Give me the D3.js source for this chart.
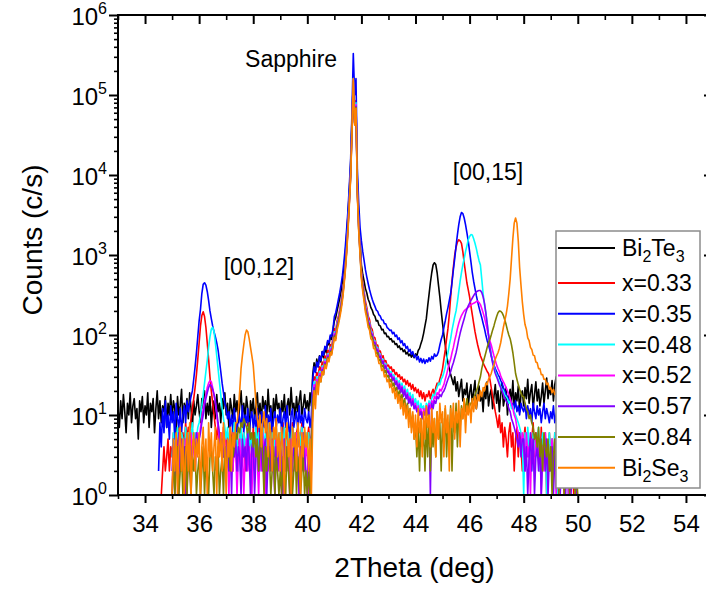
<!DOCTYPE html>
<html><head><meta charset="utf-8">
<script src="https://cdn.jsdelivr.net/npm/d3@7"></script>
<style>
body{margin:0;background:#fff;}
text{font-family:"Liberation Sans",Arial,sans-serif;fill:#000;}
</style>
</head><body>
<svg id="chart" width="706" height="592"></svg>
<script>
// ---------------- DATA ----------------
const seriesLabels = ["Bi_{2}Te_{3}", "x=0.33", "x=0.35", "x=0.48", "x=0.52", "x=0.57", "x=0.84", "Bi_{2}Se_{3}"];
const seriesColors = ["#000000", "#ff0000", "#0000ff", "#00ffff", "#ff00ff", "#8000ff", "#808000", "#ff8000"];
const seriesStart = [33.0, 34.5, 34.5, 35.0, 35.0, 35.0, 35.0, 35.0]; // first 2Theta of each scan (deg)
const angleStep = 0.05;   // deg between samples
const scanEnd = 50.0;

// counts (c/s), one row per degree
const bi2te3 = [
 12, 7, 15, 9, 18, 11, 6, 14, 10, 19, 8, 13, 16, 9, 12, 5, 15, 11, 17, 8,
 13, 10, 19, 7, 14, 11, 16, 6, 12, 20, 9, 15, 8, 13, 11, 17, 7, 14, 10, 18,
 9, 15, 12, 6, 17, 10, 13, 21, 8, 14, 11, 16, 9, 19, 12, 7, 15, 10, 13, 18,
 11, 8, 16, 12, 20, 9, 14, 10, 17, 7, 13, 15, 9, 18, 11, 14, 8, 16, 12, 19,
 10, 14, 7, 16, 12, 9, 18, 11, 15, 8, 13, 20, 10, 14, 9, 17, 12, 6, 15, 11,
 16, 9, 13, 19, 10, 14, 8, 17, 12, 15, 9, 21, 11, 13, 7, 16, 10, 18, 12, 14,
 8, 15, 11, 18, 9, 13, 16, 10, 22, 12, 14, 9, 17, 11, 15, 20, 10, 13, 18, 12,
 15, 11, 19, 13, 32, 45, 36, 50, 40, 55, 46, 62, 52, 70, 60, 82, 75, 95, 88, 115,
 150, 165, 200, 240, 290, 360, 470, 650, 1000, 1700, 3000, 6000, 13000, 50000, 150000, 45000, 75000, 8000, 3000, 1500,
 750, 570, 470, 380, 335, 280, 255, 220, 205, 180, 172, 150, 152, 132, 130, 116, 118, 104, 106, 95,
 96, 88, 90, 82, 84, 76, 78, 70, 73, 66, 68, 62, 65, 58, 61, 55, 58, 53, 57, 52,
 58, 55, 64, 68, 78, 88, 105, 130, 160, 230, 320, 450, 600, 750, 800, 760, 600, 420, 300, 200,
 140, 100, 75, 55, 45, 38, 32, 28, 24, 30, 20, 26, 17, 22, 28, 15, 21, 18, 25, 13,
 19, 24, 14, 20, 27, 12, 17, 23, 15, 19, 11, 22, 16, 26, 13, 18, 21, 12, 17, 24,
 14, 20, 11, 18, 25, 13, 16, 22, 10, 17, 21, 14, 27, 12, 19, 15, 23, 11, 18, 20,
 13, 22, 16, 28, 14, 19, 24, 12, 18, 26, 15, 21, 13, 17, 25, 14, 20, 29, 16, 22,
 18, 27, 15, 24, 30, 17, 22, 14, 26, 19, 23, 16, 28, 20, 25, 15, 21, 18, 24, 17,
 20];
const x033 = [
 1, 1, 1, 2, 4, 2, 3, 5, 2, 4,
 3, 6, 2, 5, 4, 7, 3, 5, 6, 4, 8, 5, 7, 6, 9, 12, 16, 22, 32, 50,
 80, 130, 175, 195, 170, 125, 80, 50, 30, 20, 14, 10, 7, 5, 8, 4, 6, 3, 7, 5,
 4, 6, 3, 7, 5, 2, 6, 4, 8, 3, 5, 7, 4, 6, 2, 5, 8, 4, 6, 3,
 7, 4, 5, 8, 3, 6, 4, 7, 2, 5, 6, 3, 8, 4, 5, 7, 3, 6, 4, 5,
 6, 3, 8, 4, 5, 7, 2, 6, 4, 8, 5, 3, 6, 7, 4, 5, 8, 3, 6, 4,
 5, 7, 4, 6, 24, 30, 27, 34, 31, 40, 36, 46, 42, 55, 50, 64, 60, 76, 72, 92,
 120, 110, 150, 170, 210, 260, 340, 480, 750, 1300, 2400, 5000, 11000, 40000, 170000, 50000, 85000, 7000, 2600, 1300,
 650, 460, 350, 260, 220, 172, 156, 124, 117, 95, 92, 75, 75, 62, 63, 52, 55, 46, 48, 41,
 42, 38, 40, 35, 37, 32, 34, 30, 32, 28, 30, 26, 28, 24, 27, 23, 25, 21, 24, 20,
 22, 19, 21, 17, 20, 16, 19, 15, 18, 17, 20, 16, 19, 21, 18, 22, 25, 24, 28, 32,
 38, 50, 65, 90, 120, 180, 300, 480, 700, 1000, 1250, 1450, 1550, 1500, 1400, 1100, 800, 600, 450, 370,
 300, 230, 180, 140, 110, 90, 75, 64, 55, 50, 45, 41, 38, 35, 33, 28, 22, 17, 14, 11,
 9, 7, 10, 6, 8, 4, 7, 5, 3, 6, 8, 4, 6, 2, 5, 7, 3, 6, 4, 2,
 5, 7, 3, 6, 4, 2, 5, 8, 3, 6, 4, 5, 2, 7, 3, 5, 6, 1, 4, 6,
 3, 5, 2, 6, 4, 3, 7, 2, 5, 4, 1, 5, 3, 6, 2, 4, 5, 1, 3, 4,
 2];
const x035 = [
 2, 8, 4, 12, 6, 15, 7, 10, 5, 13,
 8, 11, 5, 14, 9, 7, 12, 6, 10, 13, 8, 15, 11, 14, 17, 20, 28, 40, 60, 95,
 150, 210, 330, 430, 450, 420, 350, 270, 200, 160, 130, 110, 95, 80, 65, 48, 35, 25, 19, 14,
 12, 9, 11, 7, 10, 6, 12, 8, 5, 11, 9, 7, 13, 6, 10, 8, 12, 5, 9, 11,
 7, 10, 6, 12, 8, 5, 11, 9, 7, 13, 6, 10, 8, 12, 5, 9, 11, 7, 10, 8,
 12, 6, 9, 11, 7, 13, 8, 5, 10, 12, 7, 9, 11, 6, 13, 8, 10, 7, 12, 9,
 8, 11, 7, 10, 28, 40, 34, 46, 40, 54, 48, 62, 56, 72, 66, 85, 80, 100, 96, 120,
 170, 190, 230, 280, 340, 430, 560, 800, 1200, 2000, 3500, 7000, 15000, 60000, 330000, 100000, 160000, 12000, 4500, 2200,
 1500, 1100, 850, 650, 530, 440, 370, 320, 280, 250, 228, 205, 198, 178, 172, 155, 154, 138, 138, 124,
 120, 114, 115, 104, 108, 96, 100, 88, 92, 80, 85, 74, 78, 68, 72, 62, 66, 57, 62, 53,
 56, 49, 54, 46, 51, 45, 50, 44, 49, 46, 52, 47, 54, 50, 58, 54, 56, 62, 75, 88,
 100, 125, 150, 185, 220, 270, 330, 450, 650, 900, 1300, 1800, 2400, 3000, 3400, 3300, 2900, 2400, 1900, 1500,
 1100, 820, 600, 470, 380, 310, 260, 220, 190, 165, 140, 120, 100, 85, 75, 65, 55, 48, 42, 38,
 35, 32, 30, 27, 25, 22, 20, 18, 17, 15, 16, 13, 14, 12, 15, 11, 13, 10, 14, 12,
 11, 14, 9, 13, 10, 12, 8, 14, 11, 9, 13, 10, 12, 8, 11, 14, 9, 12, 10, 8,
 11, 9, 13, 8, 10, 12, 7, 11, 9, 8, 12, 10, 7, 11, 9, 13, 8, 10, 12, 9,
 8];
const x048 = [
 3, 6, 2, 5, 7, 4, 3, 6, 5, 2, 7, 4, 6, 3, 5, 8, 4, 6, 5, 7,
 8, 10, 13, 18, 25, 35, 48, 70, 95, 118, 125, 110, 80, 55, 38, 26, 18, 12, 9, 7,
 5, 7, 4, 6, 3, 5, 8, 4, 6, 2, 5, 7, 3, 6, 4, 5, 7, 3, 6, 4,
 5, 3, 7, 4, 6, 2, 5, 7, 4, 6, 3, 5, 8, 4, 6, 3, 5, 7, 4, 5,
 6, 4, 3, 7, 5, 4, 6, 2, 5, 7, 4, 6, 3, 5, 6, 4, 7, 3, 5, 6,
 4, 6, 3, 5, 20, 26, 23, 30, 27, 35, 32, 41, 38, 50, 46, 58, 55, 70, 66, 84,
 110, 100, 140, 160, 195, 245, 320, 450, 700, 1200, 2300, 4800, 10500, 38000, 160000, 48000, 80000, 6500, 2400, 1200,
 600, 420, 330, 235, 202, 157, 143, 113, 108, 86, 85, 68, 70, 56, 58, 47, 50, 40, 44, 36,
 38, 33, 35, 30, 32, 27, 29, 24, 27, 22, 25, 20, 23, 18, 21, 17, 19, 15, 18, 14,
 16, 13, 15, 11, 14, 12, 13, 10, 14, 12, 15, 13, 16, 18, 17, 20, 22, 25, 24, 28,
 30, 34, 40, 50, 60, 75, 90, 115, 140, 170, 200, 260, 350, 470, 600, 750, 900, 1100, 1300, 1550,
 1700, 1800, 1780, 1600, 1400, 1200, 1000, 850, 750, 500, 330, 240, 190, 140, 100, 75, 58, 46, 40, 35,
 32, 28, 26, 23, 21, 20, 18, 17, 16, 14, 15, 12, 13, 11, 10, 9, 8, 7, 6, 5,
 1, 6, 3, 7, 4, 5, 2, 6, 4, 3, 5, 7, 2, 4, 6, 3, 5, 1, 4, 6,
 3, 5, 2, 6, 4, 1, 5, 3, 6, 2, 4, 5, 3, 1, 4, 6, 2, 5, 3, 4,
 2];
const x052 = [
 1, 4, 2, 5, 3, 1, 6, 2, 4, 3, 5, 1, 4, 2, 6, 3, 5, 2, 4, 6,
 5, 7, 9, 12, 15, 18, 22, 25, 27, 26, 22, 18, 14, 10, 7, 5, 4, 6, 3, 5,
 2, 4, 1, 5, 3, 2, 6, 4, 1, 3, 5, 2, 4, 1, 3, 5, 2, 4, 3, 1,
 4, 2, 5, 3, 1, 4, 2, 6, 3, 1, 4, 2, 5, 3, 2, 4, 1, 5, 3, 2,
 4, 1, 3, 5, 2, 4, 3, 1, 5, 2, 4, 3, 6, 2, 1, 4, 3, 5, 2, 4,
 3, 1, 4, 2, 18, 24, 21, 28, 25, 33, 30, 39, 36, 47, 44, 56, 52, 67, 63, 80,
 105, 96, 135, 155, 190, 235, 310, 440, 680, 1150, 2200, 4600, 10000, 36000, 155000, 46000, 76000, 6300, 2300, 1150,
 580, 400, 310, 226, 194, 150, 138, 108, 104, 83, 82, 66, 67, 54, 56, 45, 48, 39, 42, 35,
 36, 31, 33, 28, 30, 25, 27, 22, 25, 20, 23, 18, 21, 16, 19, 15, 17, 14, 16, 12,
 14, 11, 13, 10, 12, 9, 12, 10, 13, 11, 14, 12, 15, 14, 17, 16, 19, 18, 21, 20,
 22, 24, 28, 32, 38, 44, 50, 60, 70, 85, 100, 120, 140, 158, 175, 188, 200, 208, 215, 222,
 230, 238, 245, 250, 255, 262, 265, 255, 240, 215, 190, 165, 140, 118, 100, 85, 75, 64, 55, 48,
 42, 38, 35, 31, 28, 26, 24, 22, 20, 18, 16, 14, 12, 10, 9, 7, 6, 5, 4, 6,
 5, 2, 6, 3, 4, 1, 5, 3, 2, 6, 4, 3, 5, 1, 4, 2, 6, 3, 4, 2,
 3, 5, 2, 4, 1, 3, 5, 2, 4, 3, 6, 2, 4, 1, 3, 5, 2, 4, 3, 1,
 2];
const x057 = [
 2, 5, 1, 4, 3, 6, 2, 5, 3, 4, 1, 5, 3, 6, 2, 4, 5, 3, 6, 4,
 5, 6, 8, 10, 13, 16, 19, 22, 24, 23, 21, 18, 15, 11, 8, 6, 4, 5, 3, 4,
 3, 5, 2, 4, 1, 6, 3, 5, 2, 4, 3, 1, 5, 3, 4, 2, 6, 3, 1, 4,
 5, 1, 3, 4, 2, 6, 3, 2, 4, 5, 1, 3, 4, 2, 5, 3, 1, 4, 2, 5,
 4, 3, 1, 5, 2, 4, 3, 5, 1, 3, 4, 2, 5, 3, 1, 4, 2, 6, 3, 2,
 1, 3, 2, 4, 17, 22, 20, 26, 24, 31, 28, 37, 34, 45, 42, 54, 50, 64, 60, 78,
 100, 92, 130, 150, 185, 228, 300, 430, 660, 1100, 2100, 4400, 9600, 35000, 150000, 44000, 72000, 6100, 2200, 1100,
 560, 390, 300, 218, 188, 145, 134, 105, 100, 80, 80, 64, 65, 52, 54, 44, 47, 38, 41, 34,
 35, 30, 32, 27, 29, 24, 26, 21, 24, 19, 22, 17, 20, 16, 18, 14, 16, 13, 15, 12,
 13, 11, 12, 10, 11, 9, 11, 10, 12, 10, 13, 1, 14, 12, 15, 14, 17, 16, 18, 17,
 19, 20, 22, 25, 28, 31, 35, 40, 45, 52, 60, 72, 88, 105, 122, 140, 160, 185, 210, 232,
 250, 270, 290, 310, 330, 345, 355, 360, 360, 340, 300, 250, 190, 140, 100, 70, 55, 45, 38, 33,
 30, 27, 24, 22, 20, 18, 16, 15, 14, 12, 11, 9, 8, 7, 6, 5, 4, 6, 3, 5,
 5, 2, 4, 1, 3, 6, 2, 5, 1, 3, 4, 2, 5, 1, 3, 4, 2, 5, 1, 3,
 2, 4, 1, 3, 5, 2, 4, 1, 3, 2, 5, 1, 3, 4, 2, 1, 3, 2, 4, 1,
 1];
const x084 = [
 1, 3, 1, 2, 4, 1, 2, 3, 1, 2, 4, 1, 3, 2, 1, 3, 2, 4, 1, 2,
 3, 1, 2, 4, 1, 3, 2, 1, 3, 4, 2, 1, 3, 2, 4, 1, 2, 3, 1, 4,
 2, 3, 4, 2, 5, 3, 4, 6, 5, 7, 6, 8, 7, 9, 8, 7, 6, 8, 5, 6,
 4, 6, 3, 5, 2, 4, 6, 3, 1, 4, 2, 5, 3, 1, 2, 4, 1, 3, 2, 1,
 2, 1, 3, 2, 1, 4, 2, 1, 3, 1, 2, 4, 1, 3, 2, 1, 2, 3, 1, 2,
 1, 2, 1, 3, 15, 20, 18, 24, 22, 29, 26, 35, 32, 43, 40, 52, 48, 62, 58, 75,
 97, 90, 125, 145, 180, 222, 290, 420, 640, 1080, 2050, 4300, 9300, 34000, 150000, 43000, 70000, 6000, 2100, 1050,
 540, 375, 285, 208, 177, 136, 126, 98, 94, 75, 74, 59, 60, 48, 49, 40, 42, 34, 36, 30,
 31, 26, 28, 23, 25, 20, 22, 17, 20, 15, 18, 13, 16, 11, 14, 9, 12, 7, 10, 5,
 8, 3, 7, 2, 9, 4, 6, 2, 8, 3, 10, 2, 7, 4, 9, 3, 11, 5, 8, 2,
 9, 4, 12, 3, 8, 5, 13, 2, 10, 6, 14, 4, 11, 7, 13, 9, 15, 11, 16, 12,
 13, 14, 15, 16, 18, 20, 22, 26, 30, 38, 45, 52, 60, 70, 80, 88, 100, 115, 130, 150,
 170, 190, 200, 198, 190, 175, 155, 135, 115, 100, 90, 75, 60, 45, 33, 28, 24, 21, 19, 17,
 17, 14, 12, 11, 9, 10, 8, 7, 5, 6, 4, 7, 3, 5, 2, 6, 4, 3, 5, 2,
 4, 1, 3, 5, 2, 4, 1, 3, 2, 5, 1, 3, 4, 2, 1, 3, 2, 4, 1, 2,
 1];
const bi2se3 = [
 1, 5, 2, 6, 1, 4, 7, 2, 5, 1, 3, 6, 2, 8, 1, 4, 6, 2, 5, 3,
 6, 1, 4, 7, 2, 5, 1, 8, 3, 6, 2, 4, 7, 1, 5, 3, 6, 2, 8, 4,
 1, 5, 3, 7, 2, 6, 4, 8, 8, 11, 20, 38, 55, 75, 100, 115, 110, 90, 70, 55,
 42, 25, 14, 9, 7, 10, 4, 8, 11, 6, 9, 3, 8, 6, 2, 7, 5, 9, 3, 6,
 2, 7, 4, 1, 6, 8, 3, 5, 1, 7, 4, 6, 2, 8, 5, 1, 6, 3, 7, 4,
 6, 2, 5, 1, 8, 20, 12, 26, 18, 30, 26, 35, 32, 42, 38, 50, 46, 60, 56, 72,
 92, 85, 115, 135, 165, 205, 270, 390, 600, 1000, 1900, 4000, 8800, 32000, 160000, 42000, 68000, 5600, 2000, 1000,
 500, 345, 262, 192, 161, 125, 115, 90, 86, 68, 67, 54, 54, 44, 44, 36, 38, 30, 32, 26,
 28, 22, 25, 19, 22, 16, 20, 14, 18, 12, 16, 10, 14, 9, 13, 7, 12, 6, 11, 5,
 10, 4, 12, 6, 9, 3, 11, 5, 13, 7, 10, 4, 12, 6, 9, 3, 11, 5, 14, 8,
 11, 3, 13, 6, 10, 2, 12, 7, 14, 5, 11, 8, 15, 4, 12, 9, 16, 6, 13, 10,
 14, 8, 16, 11, 17, 12, 18, 15, 20, 17, 22, 20, 25, 24, 28, 30, 33, 38, 42, 50,
 55, 60, 68, 80, 100, 125, 150, 180, 230, 330, 500, 900, 1600, 2500, 2900, 2500, 1500, 700, 420, 260,
 180, 135, 118, 92, 85, 70, 66, 56, 55, 46, 45, 38, 38, 32, 32, 28, 28, 24, 25, 21,
 22, 19, 21, 18, 20, 17, 19, 15, 18, 14, 16, 13, 15, 12, 14, 11, 13, 10, 12, 9,
 10];
const seriesValues = [bi2te3, x033, x035, x048, x052, x057, x084, bi2se3];

const xMajorTicks = [34, 36, 38, 40, 42, 44, 46, 48, 50, 52, 54];
const xMinorTicks = [33, 35, 37, 39, 41, 43, 45, 47, 49, 51, 53, 55];
const yMajorExponents = [0, 1, 2, 3, 4, 5, 6];
const annotations = [
  {text: "Sapphire", x: 39.4, y: 2.24e5},
  {text: "[00,12]", x: 38.21, y: 560},
  {text: "[00,15]", x: 46.68, y: 8700}
];
const xTitle = "2Theta (deg)";
const yTitle = "Counts (c/s)";

// ---------------- CHART ----------------
const svg = d3.select("#chart");
const L = 118, R = 713, T = 15, B = 495;
const x = d3.scaleLinear().domain([33, 55]).range([L, R]);
const y = d3.scaleLog().domain([1, 1e6]).range([B, T]);

svg.append("defs").append("clipPath").attr("id", "plotclip")
  .append("rect").attr("x", L).attr("y", T).attr("width", R - L).attr("height", B - T);

const series = seriesValues.map((vals, k) => vals.map((v, i) => ({
  t: seriesStart[k] + i * angleStep, v: v
})));
// sanity check of row lengths
const bad = seriesValues.map((v, k) => v.length - (Math.round((scanEnd - seriesStart[k]) / angleStep) + 1))
  .map((d, k) => d ? k + ":" + d : "").filter(s => s);

const line = d3.line()
  .x(d => x(d.t))
  .y(d => y(Math.max(1, d.v)));

const plot = svg.append("g").attr("clip-path", "url(#plotclip)");
series.forEach((s, k) => {
  plot.append("path").datum(s)
    .attr("d", line)
    .attr("fill", "none")
    .attr("stroke", seriesColors[k])
    .attr("stroke-width", 1.6)
    .attr("stroke-linejoin", "round");
});

// axes
function styleAxis(g, w) {
  g.select(".domain").remove();
  g.selectAll(".tick line").attr("stroke", "#000").attr("stroke-width", w);
}
const yMinorTicks = [];
yMajorExponents.slice(0, -1).forEach(e => { for (let m = 2; m <= 9; m++) yMinorTicks.push(m * Math.pow(10, e)); });
const yMajorTicks = yMajorExponents.map(e => Math.pow(10, e));

const gxb = svg.append("g").attr("transform", `translate(0,${B})`)
  .call(d3.axisBottom(x).tickValues(xMajorTicks).tickSizeInner(8).tickSizeOuter(0).tickFormat(d3.format("d")));
styleAxis(gxb, 2);
gxb.selectAll("text").attr("y", 37).attr("dy", null).attr("font-size", 24).attr("fill", "#000");
const gxbm = svg.append("g").attr("transform", `translate(0,${B})`)
  .call(d3.axisBottom(x).tickValues(xMinorTicks).tickSizeInner(4).tickSizeOuter(0).tickFormat(""));
styleAxis(gxbm, 1.6);
const gxt = svg.append("g").attr("transform", `translate(0,${T})`)
  .call(d3.axisTop(x).tickValues(xMajorTicks).tickSizeInner(-9).tickSizeOuter(0).tickFormat(""));
styleAxis(gxt, 2);
const gxtm = svg.append("g").attr("transform", `translate(0,${T})`)
  .call(d3.axisTop(x).tickValues(xMinorTicks).tickSizeInner(-5).tickSizeOuter(0).tickFormat(""));
styleAxis(gxtm, 1.6);
const gyl = svg.append("g").attr("transform", `translate(${L},0)`)
  .call(d3.axisLeft(y).tickValues(yMajorTicks).tickSizeInner(9).tickSizeOuter(0).tickFormat(""));
styleAxis(gyl, 2);
gyl.selectAll(".tick").each(function(d) {
  const t = d3.select(this).append("text")
    .attr("x", -11).attr("y", 9).attr("text-anchor", "end").attr("font-size", 24).attr("fill", "#000");
  t.append("tspan").text("10");
  t.append("tspan").attr("dy", -11).attr("font-size", 16).text(String(Math.round(Math.log10(d))));
});
const gylm = svg.append("g").attr("transform", `translate(${L},0)`)
  .call(d3.axisLeft(y).tickValues(yMinorTicks).tickSizeInner(4).tickSizeOuter(0).tickFormat(""));
styleAxis(gylm, 1.6);
const gyr = svg.append("g").attr("transform", `translate(${R},0)`)
  .call(d3.axisRight(y).tickValues(yMajorTicks).tickSizeInner(-9).tickSizeOuter(0).tickFormat(""));
styleAxis(gyr, 2);
const gyrm = svg.append("g").attr("transform", `translate(${R},0)`)
  .call(d3.axisRight(y).tickValues(yMinorTicks).tickSizeInner(-4).tickSizeOuter(0).tickFormat(""));
styleAxis(gyrm, 1.6);

svg.append("rect").attr("x", L).attr("y", T).attr("width", R - L).attr("height", B - T)
  .attr("fill", "none").attr("stroke", "#000").attr("stroke-width", 2);

svg.append("text").attr("x", (L + R) / 2 - 1).attr("y", 577).attr("text-anchor", "middle")
  .attr("font-size", 28).text(xTitle);
svg.append("text").attr("transform", "translate(42,240) rotate(-90)").attr("text-anchor", "middle")
  .attr("font-size", 28).text(yTitle);

annotations.forEach(a => {
  svg.append("text").attr("x", x(a.x)).attr("y", y(a.y)).attr("text-anchor", "middle")
    .attr("font-size", 23).text(a.text);
});

function richText(sel, label, subSize) {
  const parts = label.split(/(_\{[^}]*\})/).filter(p => p.length);
  let sub = false;
  parts.forEach(p => {
    if (p.startsWith("_{")) {
      sel.append("tspan").attr("font-size", subSize).attr("dy", 6).text(p.slice(2, -1));
      sub = true;
    } else {
      sel.append("tspan").attr("dy", sub ? -6 : 0).text(p);
      sub = false;
    }
  });
}
const lg = svg.append("g");
lg.append("rect").attr("x", 556).attr("y", 231).attr("width", 144).attr("height", 257)
  .attr("fill", "#fff").attr("stroke", "#8c8c8c").attr("stroke-width", 1.5);
seriesLabels.forEach((lab, i) => {
  const yy = i === 0 ? 248 : 283 + (i - 1) * 30.8;
  lg.append("line").attr("x1", 558).attr("x2", 615).attr("y1", yy).attr("y2", yy)
    .attr("stroke", seriesColors[i]).attr("stroke-width", 2);
  const t = lg.append("text").attr("x", 622).attr("y", yy + 8).attr("font-size", 23);
  richText(t, lab, 16);
});
if (bad.length) svg.append("text").attr("x", 130).attr("y", 40).attr("fill", "red").attr("font-size", 14).text("LEN " + bad.join(" "));
</script>
</body></html>
